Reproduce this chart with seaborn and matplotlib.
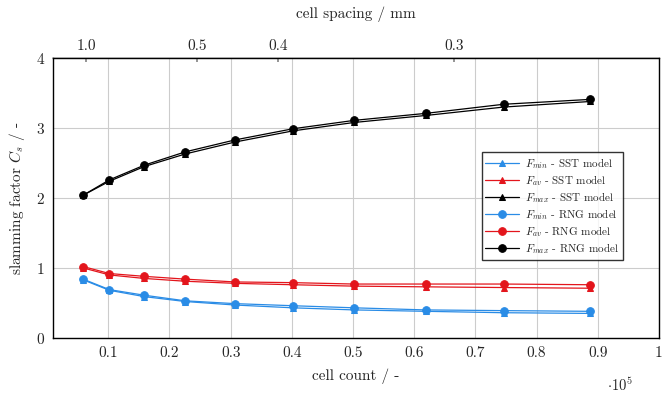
import numpy as np
import pandas as pd
import matplotlib
matplotlib.use("Agg")
import matplotlib.pyplot as plt
import seaborn as sns

# =========================
# DATA (cell count in 1e5)
# =========================
cell_count = [0.059, 0.102, 0.159, 0.226, 0.307, 0.402, 0.502, 0.619, 0.746, 0.888]

fmin_sst = [0.83, 0.68, 0.59, 0.52, 0.47, 0.43, 0.40, 0.38, 0.36, 0.35]
fav_sst = [1.00, 0.90, 0.85, 0.81, 0.78, 0.76, 0.74, 0.73, 0.72, 0.71]
fmax_sst = [2.04, 2.24, 2.45, 2.63, 2.80, 2.96, 3.08, 3.18, 3.30, 3.38]

fmin_rng = [0.84, 0.69, 0.61, 0.53, 0.49, 0.46, 0.43, 0.40, 0.39, 0.38]
fav_rng = [1.02, 0.92, 0.88, 0.84, 0.80, 0.79, 0.77, 0.77, 0.77, 0.76]
fmax_rng = [2.04, 2.26, 2.47, 2.66, 2.83, 2.99, 3.11, 3.21, 3.34, 3.41]

# top axis: cell spacing labels and their cell-count positions
spacing_labels = ["1.0", "0.5", "0.4", "0.3"]
spacing_pos = [0.064, 0.245, 0.378, 0.665]

x_ticks = [0.1, 0.2, 0.3, 0.4, 0.5, 0.6, 0.7, 0.8, 0.9, 1.0]
x_ticklabels = ["0.1", "0.2", "0.3", "0.4", "0.5", "0.6", "0.7", "0.8", "0.9", "1"]
y_ticks = [0, 1, 2, 3, 4]

BLUE = "#2a8ce6"
RED = "#e3151c"
BLACK = "#000000"

series = [
    (r"$F_{min}$ - SST model", fmin_sst, BLUE, "^"),
    (r"$F_{av}$ - SST model", fav_sst, RED, "^"),
    (r"$F_{max}$ - SST model", fmax_sst, BLACK, "^"),
    (r"$F_{min}$ - RNG model", fmin_rng, BLUE, "o"),
    (r"$F_{av}$ - RNG model", fav_rng, RED, "o"),
    (r"$F_{max}$ - RNG model", fmax_rng, BLACK, "o"),
]

# =========================
# STYLE
# =========================
sns.set_theme(style="whitegrid")
plt.rcParams["font.family"] = ["cmr10", "DejaVu Serif"]
plt.rcParams["mathtext.fontset"] = "cm"
plt.rcParams["axes.formatter.use_mathtext"] = True

fig = plt.figure(figsize=(6.69, 3.98), dpi=100)
ax = fig.add_axes([0.0795, 0.151, 0.9055, 0.703])

for label, vals, color, marker in series:
    df = pd.DataFrame({"x": cell_count, "y": vals})
    ms = 5.5 if marker == "o" else 5
    sns.lineplot(data=df, x="x", y="y", ax=ax, color=color, marker=marker,
                 markersize=ms, markeredgecolor=color, linewidth=0.9,
                 label=label, sort=False)

ax.set_xlim(0.01, 1.0)
ax.set_ylim(0, 4)
ax.set_xticks(x_ticks)
ax.set_xticklabels(x_ticklabels)
ax.set_yticks(y_ticks)
ax.tick_params(axis="both", labelsize=11, direction="in", length=3,
               color="#999999", pad=6)
ax.tick_params(axis="y", length=0)
ax.grid(True, color="#cccccc", linewidth=0.8)
ax.set_facecolor("white")
for sp in ax.spines.values():
    sp.set_color("black")
    sp.set_linewidth(1.0)

ax.set_xlabel("cell count / -", fontsize=11, labelpad=6)
ax.set_ylabel(r"slamming factor $C_s$ / -", fontsize=11, labelpad=6)

# top axis with cell spacing
top = ax.secondary_xaxis("top")
top.set_xticks(spacing_pos)
top.set_xticklabels(spacing_labels)
top.tick_params(labelsize=11, direction="in", length=3, color="#888888", pad=4)
top.set_xlabel("cell spacing / mm", fontsize=11, labelpad=15)

# offset text
ax.text(0.935, -0.14, r"$\cdot 10^5$", transform=ax.transAxes,
        fontsize=10.5, ha="center", va="top")

leg = ax.legend(loc="upper left", bbox_to_anchor=(0.698, 0.685), fontsize=8,
                frameon=True, fancybox=False, edgecolor="black",
                borderpad=0.35, labelspacing=0.2, handlelength=3.0,
                handletextpad=0.6)
leg.get_frame().set_linewidth(1.0)

fig.savefig("out.png", dpi=100)
